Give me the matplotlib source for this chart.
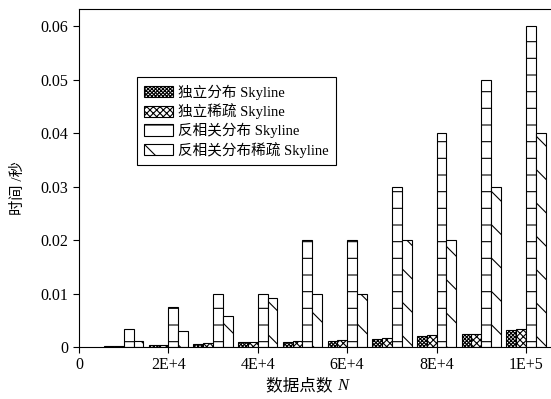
import numpy as np
import matplotlib
matplotlib.use('Agg')
from matplotlib import pyplot as plt

plt.rcParams['font.family'] = ['Liberation Serif', 'Noto Sans CJK SC']
plt.rcParams['hatch.linewidth'] = 0.8

# data points N, and times (seconds)
nPoints = [10000, 20000, 30000, 40000, 50000, 60000, 70000, 80000, 90000, 100000]
indepDist = [0.0001, 0.0003, 0.0006, 0.0009, 0.0010, 0.0012, 0.0015, 0.0021, 0.0024, 0.0031]
indepSparse = [0.0001, 0.0003, 0.0007, 0.0010, 0.0011, 0.0013, 0.0016, 0.0022, 0.0025, 0.0033]
antiDist = [0.0033, 0.0075, 0.0100, 0.0100, 0.0200, 0.0200, 0.0300, 0.0400, 0.0500, 0.0600]
antiSparse = [0.0012, 0.0030, 0.0058, 0.0092, 0.0100, 0.0100, 0.0200, 0.0200, 0.0300, 0.0400]

labels = ['独立分布 Skyline', '独立稀疏 Skyline', '反相关分布 Skyline', '反相关分布稀疏 Skyline']
xTicks = [0, 20000, 40000, 60000, 80000, 100000]
xTickLabels = ['0', '2E+4', '4E+4', '6E+4', '8E+4', '1E+5']
yTicks = [0, 0.01, 0.02, 0.03, 0.04, 0.05, 0.06]
yTickLabels = ['0', '0.01', '0.02', '0.03', '0.04', '0.05', '0.06']

fig = plt.figure(figsize=(5.51, 3.99), dpi=100)
ax = fig.add_axes([79/551, 1-347/399, 472/551, 338/399])

x = np.array(nPoints, dtype=float)
w = 2200
series = [indepDist, indepSparse, antiDist, antiSparse]
hatches = ['xxxxxxxxx', 'xxxxx', '-', '\\']
for i, (vals, h, lab) in enumerate(zip(series, hatches, labels)):
    ax.bar(x + (i - 2)*w, vals, width=w, align='edge', color='white',
           edgecolor='black', linewidth=0.8, hatch=h, label=lab)

ax.set_xlim(0, 105600)
ax.set_ylim(0, 0.0632)
ax.set_xticks(xTicks)
ax.set_xticklabels(xTickLabels, fontsize=11.5)
ax.set_yticks(yTicks)
ax.set_yticklabels(yTickLabels, fontsize=11.5)
ax.tick_params(direction='out', length=4, width=0.8)
ax.spines['right'].set_visible(False)
for s in ['left', 'bottom', 'top']:
    ax.spines[s].set_linewidth(0.8)

leg = ax.legend(loc='upper left', bbox_to_anchor=((137-79)/472, (347-77)/338),
                fontsize=10.5, fancybox=False, edgecolor='black', framealpha=1,
                handlelength=2.0, handleheight=0.8, labelspacing=0.25,
                handletextpad=0.3, borderpad=0.5, borderaxespad=0)
leg.get_frame().set_linewidth(0.8)

fig.text(18/551, 1-188/399, '时间 /秒', rotation=90, ha='center', va='center', fontsize=11)
fig.text(337/551, 1-386/399, '数据点数 ', ha='right', va='center', fontsize=12)
fig.text(337/551, 1-386/399, 'N', ha='left', va='center', fontsize=12, style='italic')

plt.savefig('out.png', dpi=100)
